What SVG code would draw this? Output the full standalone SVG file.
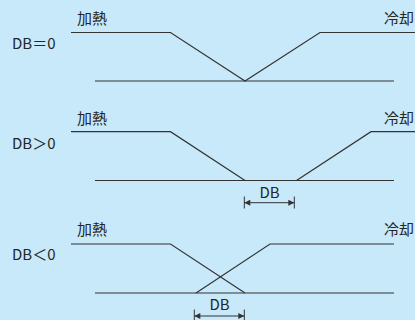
<svg xmlns="http://www.w3.org/2000/svg" width="415" height="320" viewBox="0 0 415 320">
<style>
text{font-family:"Noto Sans CJK JP","Noto Sans",sans-serif;font-size:15px;fill:#262626}
.ln{fill:none;stroke:#333;stroke-width:1.2}
.dim{fill:none;stroke:#333;stroke-width:1}
</style>
<defs>
<marker id="ah" viewBox="0 0 10 10" refX="10" refY="5" markerWidth="8" markerHeight="6" markerUnits="userSpaceOnUse" orient="auto-start-reverse">
<path d="M0,0 L10,5 L0,10 Z" fill="#333"/>
</marker>
</defs>
<rect width="415" height="320" fill="#c8e9f9"/>
<g id="panel1">
<text x="12" y="49">DB＝0</text>
<text x="77" y="24">加熱</text>
<text x="384" y="24">冷却</text>
<polyline class="ln" points="71,32.5 170.5,32.5 245,81 320,32.5 415,32.5"/>
<line class="ln" x1="95" y1="81" x2="394" y2="81"/>
</g>
<g id="panel2">
<text x="12" y="149">DB＞0</text>
<text x="77" y="124">加熱</text>
<text x="384" y="124">冷却</text>
<polyline class="ln" points="71,131.7 170.5,131.7 245,180.5"/>
<polyline class="ln" points="296.5,180.5 371,131.7 415,131.7"/>
<line class="ln" x1="95" y1="180.5" x2="394" y2="180.5"/>
<line class="dim" x1="244.3" y1="196.5" x2="244.3" y2="208.5"/>
<line class="dim" x1="294.3" y1="196.5" x2="294.3" y2="208.5"/>
<line class="dim" x1="244.3" y1="202.7" x2="294.3" y2="202.7" marker-start="url(#ah)" marker-end="url(#ah)"/>
<text x="269.5" y="197.5" text-anchor="middle">DB</text>
</g>
<g id="panel3">
<text x="12" y="260">DB＜0</text>
<text x="77" y="235">加熱</text>
<text x="384" y="235">冷却</text>
<polyline class="ln" points="71,244 170.5,244 245,293"/>
<polyline class="ln" points="196,293 270,244 394,244"/>
<line class="ln" x1="95" y1="293" x2="394" y2="293"/>
<line class="dim" x1="194.3" y1="309.5" x2="194.3" y2="320"/>
<line class="dim" x1="244.3" y1="309.5" x2="244.3" y2="320"/>
<line class="dim" x1="194.3" y1="316" x2="244.3" y2="316" marker-start="url(#ah)" marker-end="url(#ah)"/>
<text x="219.5" y="309.5" text-anchor="middle">DB</text>
</g>
</svg>
